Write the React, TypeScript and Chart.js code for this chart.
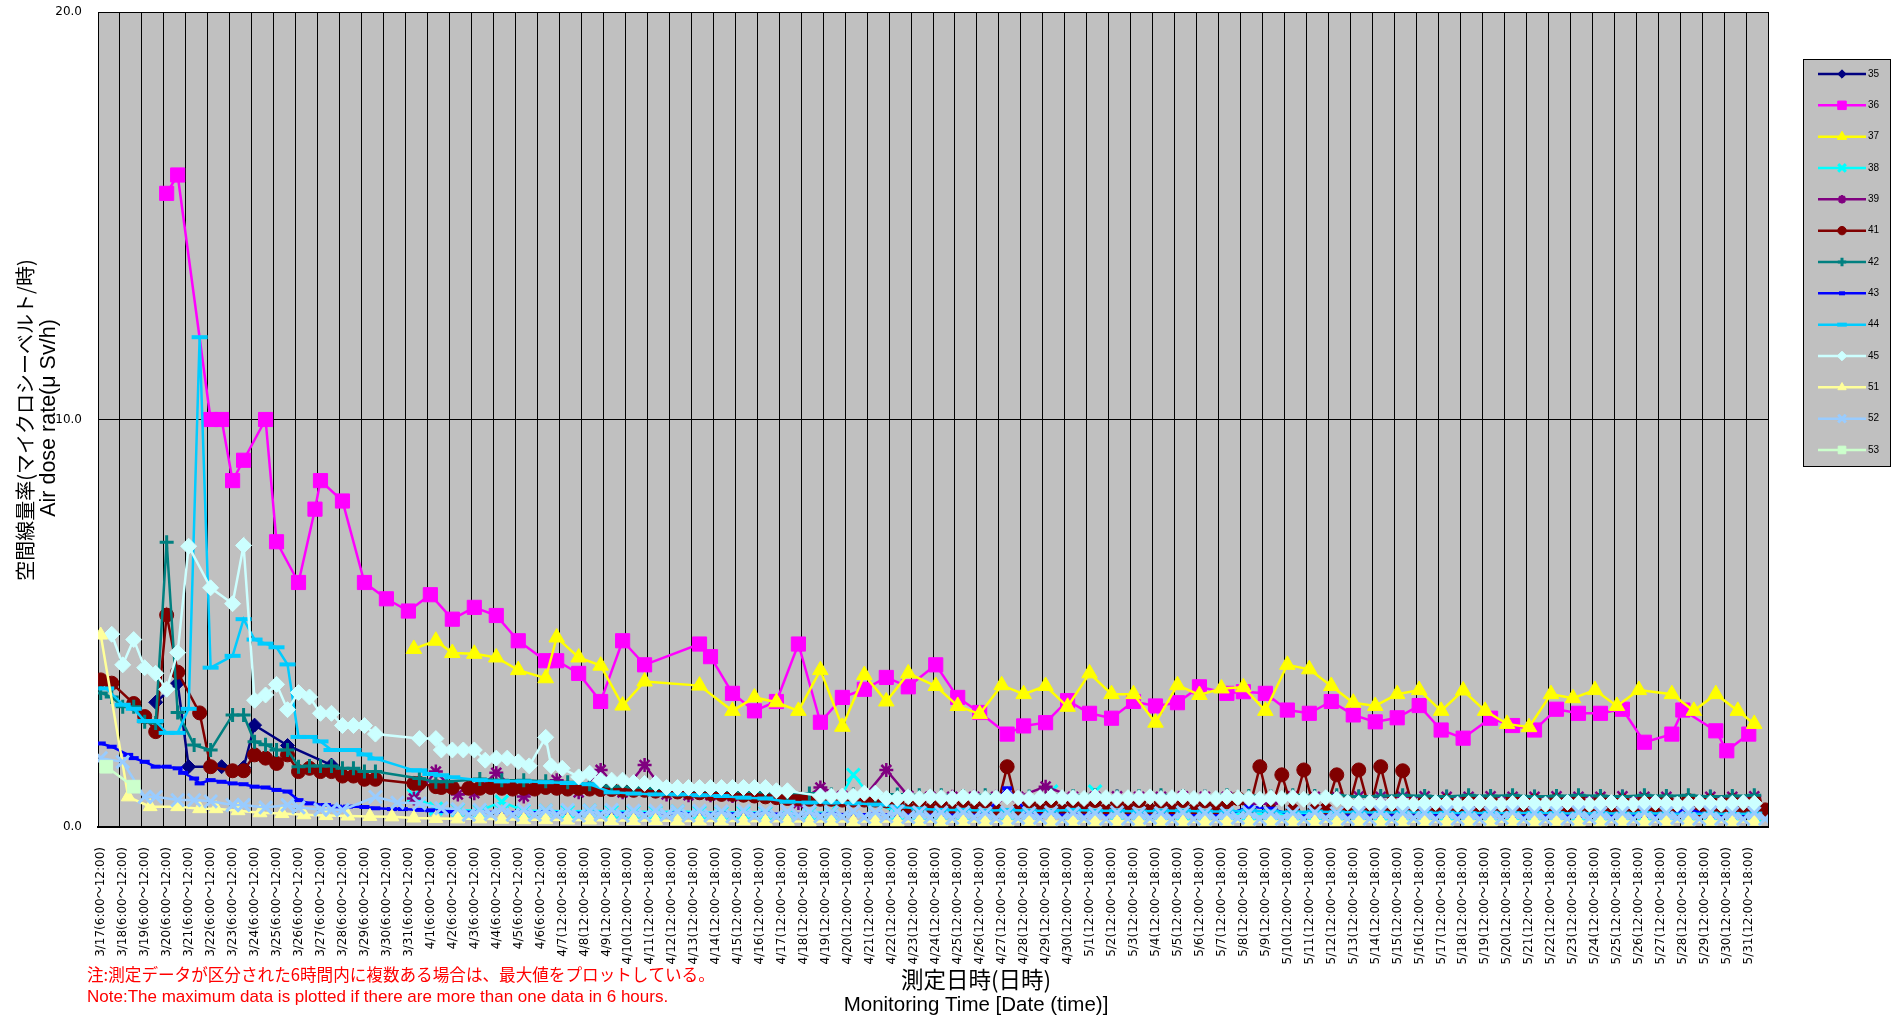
import React, { useEffect, useRef } from 'react';
import { Chart, registerables } from 'chart.js';
import { drawPoint } from 'chart.js/helpers';

Chart.register(...registerables);

const W = 1899;
const H = 1020;

// ---------- tick labels (one per day) ----------
const dayLabels = [
  '3/17(6:00～12:00)', '3/18(6:00～12:00)', '3/19(6:00～12:00)', '3/20(6:00～12:00)', '3/21(6:00～12:00)',
  '3/22(6:00～12:00)', '3/23(6:00～12:00)', '3/24(6:00～12:00)', '3/25(6:00～12:00)', '3/26(6:00～12:00)',
  '3/27(6:00～12:00)', '3/28(6:00～12:00)', '3/29(6:00～12:00)', '3/30(6:00～12:00)', '3/31(6:00～12:00)',
  '4/1(6:00～12:00)', '4/2(6:00～12:00)', '4/3(6:00～12:00)', '4/4(6:00～12:00)', '4/5(6:00～12:00)',
  '4/6(6:00～12:00)', '4/7(12:00～18:00)', '4/8(12:00～18:00)', '4/9(12:00～18:00)', '4/10(12:00～18:00)',
  '4/11(12:00～18:00)', '4/12(12:00～18:00)', '4/13(12:00～18:00)', '4/14(12:00～18:00)', '4/15(12:00～18:00)',
  '4/16(12:00～18:00)', '4/17(12:00～18:00)', '4/18(12:00～18:00)', '4/19(12:00～18:00)', '4/20(12:00～18:00)',
  '4/21(12:00～18:00)', '4/22(12:00～18:00)', '4/23(12:00～18:00)', '4/24(12:00～18:00)', '4/25(12:00～18:00)',
  '4/26(12:00～18:00)', '4/27(12:00～18:00)', '4/28(12:00～18:00)', '4/29(12:00～18:00)', '4/30(12:00～18:00)',
  '5/1(12:00～18:00)', '5/2(12:00～18:00)', '5/3(12:00～18:00)', '5/4(12:00～18:00)', '5/5(12:00～18:00)',
  '5/6(12:00～18:00)', '5/7(12:00～18:00)', '5/8(12:00～18:00)', '5/9(12:00～18:00)', '5/10(12:00～18:00)',
  '5/11(12:00～18:00)', '5/12(12:00～18:00)', '5/13(12:00～18:00)', '5/14(12:00～18:00)', '5/15(12:00～18:00)',
  '5/16(12:00～18:00)', '5/17(12:00～18:00)', '5/18(12:00～18:00)', '5/19(12:00～18:00)', '5/20(12:00～18:00)',
  '5/21(12:00～18:00)', '5/22(12:00～18:00)', '5/23(12:00～18:00)', '5/24(12:00～18:00)', '5/25(12:00～18:00)',
  '5/26(12:00～18:00)', '5/27(12:00～18:00)', '5/28(12:00～18:00)', '5/29(12:00～18:00)', '5/30(12:00～18:00)',
  '5/31(12:00～18:00)',
];

// six-hour slot indices (4 slots per day, slot 0 = 3/17 6:00-12:00)
const dailyBins = [1, 5, 9, 13, 17, 21, 25, 29, 33, 37, 41, 45, 49, 53, 57, 61, 65, 69, 73, 77, 81, 85, 89, 93, 97, 101,
  105, 109, 113, 117, 121, 125, 129, 133, 137, 141, 145, 149, 153, 157, 161, 165, 169, 173, 177, 181, 185, 189, 193, 197,
  201, 205, 209, 213, 217, 221, 225, 229, 233, 237, 241, 245, 249, 253, 257, 261, 265, 269, 273, 277, 281, 285, 289, 293,
  297, 301];
const halfDayBins = [65, 67, 69, 71, 73, 75, 77, 79, 81, 83, 85, 87, 89, 91, 93, 95, 97, 99, 101, 103, 105, 107, 109, 111,
  113, 115, 117, 119, 121, 123, 125, 127, 129, 131, 133, 135, 137, 139, 141, 143, 145, 147, 149, 151, 153, 155, 157, 159,
  161, 163, 165, 167, 169, 171, 173, 175, 177, 179, 181, 183, 185, 187, 189, 191, 193, 195, 197, 199, 201, 203, 205, 207,
  209, 211, 213, 215, 217, 219, 221, 223, 225, 227, 229, 231, 233, 235, 237, 239, 241, 243, 245, 247, 249, 251, 253, 255,
  257, 259, 261, 263, 265, 267, 269, 271, 273, 275, 277, 279, 281, 283, 285, 287, 289, 291, 293, 295, 297, 299, 301, 303];

// ---------- series values (µSv/h) ----------
const bins35 = [10, 14, 16, 22, 26, 28, 34, 42];
const vals35 = [3.06, 3.53, 1.48, 1.48, 1.46, 2.5, 2.0, 1.52];

const bins36 = [12, 14, 20, 22, 24, 26, 30, 32, 36, 39, 40, 44, 48, 52, 56, 60, 64, 68, 72, 76, 81, 83, 87, 91, 95, 99,
  109, 111, 115, 119, 123, 127, 131, 135, 139, 143, 147, 152, 156, 160, 165, 168, 172, 176, 180, 184, 188, 192, 196, 200,
  205, 208, 212, 216, 220, 224, 228, 232, 236, 240, 244, 248, 253, 257, 261, 265, 269, 273, 277, 281, 286, 288, 294, 296, 300];
const vals36 = [15.55, 16.0, 10.0, 10.0, 8.5, 9.0, 10.0, 7.0, 6.0, 7.8, 8.5, 8.0, 6.0, 5.6, 5.3, 5.7, 5.1, 5.39, 5.19, 4.57,
  4.08, 4.08, 3.77, 3.08, 4.57, 3.98, 4.49, 4.18, 3.28, 2.85, 3.08, 4.49, 2.57, 3.18, 3.38, 3.67, 3.44, 3.98, 3.18, 2.81,
  2.28, 2.48, 2.56, 3.1, 2.79, 2.67, 3.08, 2.97, 3.05, 3.44, 3.28, 3.32, 3.28, 2.87, 2.79, 3.08, 2.75, 2.58, 2.68, 2.98,
  2.38, 2.18, 2.67, 2.49, 2.38, 2.89, 2.79, 2.79, 2.89, 2.08, 2.28, 2.87, 2.36, 1.87, 2.28];

const bins37 = [57, 61, 64, 68, 72, 76, 81, 83, 87, 91, 95, 99, 109, 115, 119, 123, 127, 131, 135, 139, 143, 147, 152, 156,
  160, 164, 168, 172, 176, 180, 184, 188, 192, 196, 200, 204, 208, 212, 216, 220, 224, 228, 232, 236, 240, 244, 248, 252,
  256, 260, 264, 268, 272, 276, 280, 286, 290, 294, 298, 301];
const vals37 = [4.37, 4.57, 4.27, 4.25, 4.16, 3.85, 3.65, 4.65, 4.16, 3.96, 2.98, 3.57, 3.47, 2.85, 3.18, 3.06, 2.85, 3.85,
  2.46, 3.73, 3.08, 3.77, 3.46, 2.97, 2.77, 3.48, 3.26, 3.46, 2.95, 3.77, 3.26, 3.26, 2.56, 3.48, 3.24, 3.4, 3.43, 2.85,
  3.98, 3.87, 3.46, 3.05, 2.97, 3.26, 3.36, 2.85, 3.35, 2.85, 2.53, 2.45, 3.26, 3.16, 3.36, 2.97, 3.36, 3.26, 2.85, 3.26,
  2.85, 2.53];

const vals38 = [0.77, 0.45, 0.42, 0.4, 0.62, 0.4, 0.4, 0.38, 0.4, 0.38, 0.38, 0.36, 0.38, 0.36, 0.35, 0.36, 0.35, 0.25,
  0.35, 0.35, 1.28, 0.6, 0.35, 0.34, 0.35, 0.34, 0.34, 0.34, 0.34, 0.87, 0.34, 0.87, 0.34, 0.33, 0.33, 0.33, 0.33, 0.33,
  0.32, 0.32, 0.32, 0.32, 0.32, 0.32, 0.31, 0.31, 0.31, 0.31, 0.31, 0.31, 0.3, 0.3, 0.3, 0.3, 0.3, 0.3, 0.3, 0.3, 0.29,
  0.29, 0.29, 0.29];

const bins39 = [57, 61, 65, 68, 72, 77, 83, 87, 91, 95, 99, 103, 107, 111, 115, 119, 123, 127, 131, 135, 139, 143, 147,
  151, 155, 159, 163, 167, 172];
const vals39 = [0.7, 1.36, 0.8, 0.83, 1.33, 0.75, 1.15, 0.85, 1.4, 0.85, 1.52, 0.8, 0.78, 0.78, 0.76, 0.76, 0.74, 0.59,
  0.97, 0.76, 0.74, 1.4, 0.76, 0.74, 0.74, 0.74, 0.74, 0.74, 0.99];
const tail39 = [0.74, 0.74, 0.75, 0.74, 0.74, 0.75, 0.74, 0.74, 0.57, 0.57, 0.75, 0.74, 0.74, 0.75, 0.74, 0.74, 0.75,
  0.74, 0.74, 0.75, 0.74, 0.74, 0.75, 0.74, 0.74, 0.75, 0.74, 0.74, 0.5, 0.74, 0.74, 0.75];

const bins41 = [0, 2, 6, 8, 10, 12, 14, 18, 20, 24, 26, 28, 30, 32, 34, 36, 38, 40, 42, 44, 46, 48, 50, 57, 58, 61, 62, 64];
const vals41 = [3.61, 3.53, 3.03, 2.71, 2.34, 5.2, 3.8, 2.8, 1.48, 1.38, 1.38, 1.77, 1.69, 1.56, 1.77, 1.36, 1.44, 1.36,
  1.36, 1.25, 1.25, 1.17, 1.17, 1.07, 1.07, 0.99, 0.97, 0.97];
const tail41 = [0.95,
  0.95, 0.97, 0.95, 0.93, 0.95, 0.93, 0.97, 0.95, 0.93, 0.95, 0.93, 0.92, 0.92, 0.9, 0.9, 0.9, 0.88, 0.88,
  0.86, 0.85, 0.84, 0.82, 0.8, 0.8, 0.78, 0.76, 0.74, 0.72, 0.7, 0.7, 0.68, 0.68, 0.68, 0.66, 0.66, 0.66, 0.66, 0.64,
  0.64, 0.42, 0.65, 0.42, 0.64, 0.4, 0.65, 0.42, 0.64, 0.4, 1.48, 0.4, 0.64, 0.42, 0.65, 0.4, 0.64, 0.42, 0.65, 0.4,
  0.64, 0.42, 0.65, 0.4, 0.64, 0.42, 0.65, 0.4, 0.64, 0.42, 0.62, 0.7, 0.4, 1.48, 0.4, 1.28, 0.4, 1.4, 0.4, 0.42,
  1.28, 0.4, 1.4, 0.4, 1.48, 0.4, 1.38, 0.4,
  0.62, 0.4, 0.64, 0.42, 0.65, 0.4, 0.64, 0.42, 0.65, 0.4, 0.64, 0.42, 0.65, 0.4, 0.64, 0.42, 0.65, 0.4, 0.64, 0.42,
  0.65, 0.4, 0.64, 0.42, 0.65, 0.4, 0.64, 0.42, 0.65, 0.4, 0.64, 0.42];

const bins42 = [0, 2, 4, 6, 8, 10, 12, 14, 17, 20, 24, 26, 28, 30, 32, 34, 36, 38, 40, 42, 44, 46, 48, 50, 58, 61, 63];
const vals42 = [3.29, 3.19, 2.95, 2.95, 2.58, 2.55, 6.99, 2.81, 2.01, 1.89, 2.75, 2.75, 2.09, 2.02, 1.89, 1.89, 1.48,
  1.5, 1.5, 1.5, 1.44, 1.44, 1.36, 1.36, 1.19, 1.11, 1.11];
const tail42 = [1.18, 1.15, 1.15, 1.12, 1.1, 1.05, 1.0, 0.98, 0.95, 0.92, 0.9, 0.9, 0.88, 0.86, 0.84, 0.82, 0.8, 0.8,
  0.78, 0.8, 0.78,
  0.78, 0.76, 0.78, 0.76, 0.75, 0.78, 0.76, 0.78, 0.75, 0.76, 0.78, 0.76, 0.75, 0.78, 0.76, 0.75, 0.78, 0.76, 0.78,
  0.75, 0.76, 0.78, 0.76, 0.75, 0.78, 0.76, 0.78, 0.75, 0.76, 0.78, 0.76, 0.75, 0.78, 0.76, 0.78, 0.75, 0.76, 0.78];

const bins43 = [0, 2, 5, 6, 8, 10, 12, 14, 15, 17, 18, 20, 22, 24, 26, 28, 30, 32, 34, 36, 38, 41, 43, 45, 48, 50, 53,
  55, 58, 60, 62, 64];
const vals43 = [2.05, 1.97, 1.77, 1.69, 1.6, 1.48, 1.48, 1.44, 1.33, 1.19, 1.07, 1.15, 1.11, 1.07, 1.05, 0.99, 0.97,
  0.91, 0.87, 0.66, 0.58, 0.54, 0.5, 0.5, 0.49, 0.46, 0.44, 0.44, 0.42, 0.41, 0.39, 0.38];
const tail43 = [0.37, 0.37, 0.36, 0.36, 0.35, 0.35, 0.35, 0.34, 0.34, 0.34, 0.33, 0.33, 0.33, 0.33, 0.32, 0.32, 0.32,
  0.31, 0.31, 0.3, 0.3,
  0.3, 0.3, 0.3, 0.95, 0.3, 0.3, 0.3, 0.29, 0.29, 0.29, 0.29, 0.29, 0.29, 0.29, 0.5, 0.45, 0.29, 0.28, 0.28, 0.28,
  0.28, 0.28, 0.28, 0.28, 0.28, 0.27, 0.27, 0.27, 0.27, 0.27, 0.27, 0.27, 0.27, 0.27, 0.45, 0.26, 0.26, 0.26];

const bins44 = [1, 4, 6, 8, 10, 12, 14, 16, 18, 20, 24, 26, 28, 30, 32, 34, 36, 38, 40, 42, 44, 46, 48, 50, 57, 58, 60, 62, 64];
const vals44 = [3.4, 3.0, 2.9, 2.6, 2.6, 2.31, 2.31, 2.9, 12.02, 3.91, 4.2, 5.1, 4.6, 4.5, 4.41, 3.99, 2.21, 2.21, 2.1,
  1.89, 1.89, 1.89, 1.78, 1.68, 1.39, 1.39, 1.3, 1.27, 1.22];
const tail44 = [1.15, 1.12, 1.12, 1.1, 1.08, 1.05, 0.85, 0.82, 0.8, 0.8, 0.78, 0.76, 0.72, 0.7, 0.62, 0.6, 0.6, 0.58,
  0.55, 0.5, 0.45,
  0.42, 0.42, 0.4, 0.42, 0.4, 0.4, 0.42, 0.4, 0.4, 0.38, 0.4, 0.4, 0.38, 0.38, 0.4, 0.38, 0.36, 0.38, 0.36, 0.36,
  0.35, 0.36, 0.35, 0.35, 0.34, 0.35, 0.34, 0.35, 0.34, 0.33, 0.34, 0.33, 0.34, 0.33, 0.32, 0.33, 0.32, 0.33];

const bins45 = [2, 4, 6, 8, 10, 12, 14, 16, 20, 24, 26, 28, 30, 32, 34, 36, 38, 40, 42, 44, 46, 48, 50, 58, 61, 62, 64,
  66, 68, 70, 72, 74, 76, 78, 81, 82, 84, 87, 89, 91, 93, 95, 97, 99, 101, 103, 105, 107, 109, 111, 113, 115, 117, 119,
  121, 123, 125, 131, 133, 135, 137, 139, 141, 143, 145];
const vals45 = [4.73, 3.98, 4.6, 3.91, 3.77, 3.38, 4.28, 6.89, 5.87, 5.48, 6.91, 3.11, 3.24, 3.5, 2.88, 3.3, 3.19, 2.79,
  2.79, 2.49, 2.49, 2.49, 2.28, 2.17, 2.17, 1.89, 1.89, 1.89, 1.89, 1.64, 1.69, 1.69, 1.6, 1.5, 2.2, 1.5, 1.44, 1.23,
  1.32, 1.15, 1.15, 1.15, 1.09, 1.07, 1.07, 0.97, 0.97, 0.97, 0.97, 0.97, 0.97, 0.97, 0.97, 0.97, 0.97, 0.89, 0.89,
  0.76, 0.76, 0.76, 0.76, 0.83, 0.83, 0.7, 0.7];
const tail45 = [0.74, 0.7, 0.74, 0.72, 0.7, 0.74, 0.72, 0.7, 0.72, 0.74, 0.72, 0.7, 0.72, 0.74, 0.72, 0.72, 0.7, 0.74,
  0.72, 0.7, 0.72, 0.72, 0.74, 0.7, 0.72, 0.74, 0.7,
  0.72, 0.7, 0.74, 0.72, 0.7, 0.68, 0.72, 0.7, 0.72, 0.68, 0.7, 0.72, 0.68,
  0.6, 0.58, 0.6, 0.56, 0.58, 0.6, 0.56, 0.58, 0.6, 0.58, 0.56, 0.58, 0.6, 0.58, 0.56, 0.58, 0.6, 0.58, 0.56, 0.58,
  0.6, 0.58, 0.56, 0.58, 0.6, 0.58, 0.56, 0.58, 0.6, 0.58, 0.56, 0.58, 0.6, 0.58, 0.56, 0.58, 0.6, 0.58];

const bins51 = [0, 5, 9, 14, 18, 21];
const vals51 = [4.71, 0.74, 0.5, 0.5, 0.45, 0.45];
const tail51 = [0.4, 0.35, 0.33, 0.3, 0.28, 0.27, 0.26, 0.25,
  0.22, 0.21, 0.2, 0.2, 0.19, 0.18, 0.18, 0.17, 0.17, 0.16, 0.16, 0.16, 0.15, 0.15, 0.15, 0.15, 0.14,
  0.14, 0.13, 0.14, 0.13, 0.14, 0.13, 0.14, 0.13, 0.14, 0.13, 0.13, 0.14, 0.13, 0.14, 0.13, 0.14, 0.13, 0.14, 0.13,
  0.13, 0.14, 0.13, 0.14, 0.13, 0.14, 0.13, 0.14, 0.13, 0.13, 0.14, 0.13, 0.14, 0.13, 0.14, 0.13, 0.14, 0.13, 0.13,
  0.14, 0.13, 0.14, 0.13, 0.14, 0.13, 0.14];

const bins52 = [0, 4, 8, 10, 14, 17, 20, 24, 26, 30, 34, 36, 40, 42, 44, 50, 54, 58, 62];
const vals52 = [1.69, 1.6, 0.74, 0.74, 0.66, 0.66, 0.63, 0.54, 0.54, 0.48, 0.54, 0.48, 0.43, 0.43, 0.42, 0.74, 0.6,
  0.58, 0.46];
const tail52 = [0.44, 0.3, 0.42, 0.32, 0.44, 0.3, 0.42, 0.3, 0.4, 0.3, 0.42, 0.28, 0.4, 0.3, 0.42, 0.28, 0.4, 0.28,
  0.4, 0.3, 0.38, 0.28, 0.4, 0.28, 0.38, 0.26, 0.4, 0.28, 0.38, 0.26, 0.38, 0.28, 0.38, 0.26, 0.36, 0.26, 0.38, 0.24,
  0.36, 0.26, 0.38, 0.24, 0.36, 0.24, 0.36, 0.22, 0.36, 0.24, 0.34, 0.22, 0.36, 0.22, 0.34, 0.22, 0.36, 0.2, 0.34, 0.22,
  0.34, 0.2, 0.36, 0.2, 0.34, 0.22, 0.34, 0.2, 0.36, 0.2, 0.34, 0.2, 0.34, 0.22, 0.36, 0.2, 0.34, 0.2, 0.34, 0.2,
  0.36, 0.22, 0.34, 0.2, 0.34, 0.2, 0.36, 0.2, 0.34, 0.22, 0.34, 0.2, 0.36, 0.2, 0.34, 0.2, 0.34, 0.22, 0.36, 0.2,
  0.34, 0.2, 0.34, 0.2, 0.36, 0.22, 0.34, 0.2, 0.34, 0.2, 0.36, 0.2, 0.34, 0.22, 0.34, 0.2, 0.36, 0.2, 0.34, 0.2,
  0.34, 0.2];

const bins53 = [1, 6];
const vals53 = [1.48, 0.99];

// ---------- series styling ----------
const seriesNames = ['35', '36', '37', '38', '39', '41', '42', '43', '44', '45', '51', '52', '53'];
const seriesColors = ['#000080', '#FF00FF', '#FFFF00', '#00FFFF', '#800080', '#800000', '#008080', '#0000FF', '#00CCFF',
  '#CCFFFF', '#FFFF99', '#99CCFF', '#CCFFCC'];
const seriesMarkers = ['rectRot', 'rect', 'triangle', 'crossRot', 'star', 'circle', 'cross', 'line', 'line', 'rectRot',
  'triangle', 'crossRot', 'rect'];
const markerRadius = [7, 10, 9, 9, 7, 7, 7, 5, 8, 8, 8, 9, 9];
const markerBorder = [1, 1, 1, 3, 2.5, 1, 3, 4, 4, 1, 1, 3, 1];

const pts = (b: number[], v: number[]) => b.map((x, i) => ({ x: x + 0.5, y: v[i] }));

const seriesData = [
  pts(bins35, vals35),
  pts(bins36, vals36),
  pts(bins37, vals37),
  pts(dailyBins.slice(14), vals38),
  pts(bins39.concat(dailyBins.slice(44)), vals39.concat(tail39)),
  pts(bins41.concat(halfDayBins.slice(1)), vals41.concat(tail41)),
  pts(bins42.concat(dailyBins.slice(17)), vals42.concat(tail42)),
  pts(bins43.concat(dailyBins.slice(17)), vals43.concat(tail43)),
  pts(bins44.concat(dailyBins.slice(17)), vals44.concat(tail44)),
  pts(bins45.concat(halfDayBins.slice(41, 119)), vals45.concat(tail45)),
  pts(bins51.concat(dailyBins.slice(6)), vals51.concat(tail51)),
  pts(bins52.concat(halfDayBins), vals52.concat(tail52)),
  pts(bins53, vals53),
];

const tickValues = Array.from({ length: dayLabels.length + 1 }, (_, i) => i * 4);

const decorPlugin = {
  id: 'decor',
  beforeDraw(chart: any) {
    const { ctx, chartArea: a } = chart;
    ctx.save();
    ctx.fillStyle = '#FFFFFF';
    ctx.fillRect(0, 0, chart.width, chart.height);
    ctx.fillStyle = '#C0C0C0';
    ctx.fillRect(a.left, a.top, a.right - a.left, a.bottom - a.top);
    ctx.restore();
  },
  afterDraw(chart: any) {
    const { ctx } = chart;
    ctx.save();
    // y axis title
    ctx.fillStyle = '#000';
    ctx.textAlign = 'center';
    ctx.textBaseline = 'middle';
    ctx.save();
    ctx.translate(25, 420);
    ctx.rotate(-Math.PI / 2);
    ctx.font = '20px "Noto Sans CJK JP"';
    ctx.fillText('空間線量率(マイクロシーベルト/時)', 0, 0);
    ctx.restore();
    ctx.save();
    ctx.translate(49, 418);
    ctx.rotate(-Math.PI / 2);
    ctx.font = '21.5px "Liberation Sans", "Noto Sans CJK JP"';
    ctx.fillText('Air dose rate(μ Sv/h)', 0, 0);
    ctx.restore();
    // x axis title
    ctx.font = '22.5px "Noto Sans CJK JP"';
    ctx.fillText('測定日時(日時)', 976, 979);
    ctx.font = '20.5px "Liberation Sans"';
    ctx.fillText('Monitoring Time [Date (time)]', 976, 1005);
    // note
    ctx.fillStyle = '#FF0000';
    ctx.textAlign = 'left';
    ctx.font = '16.6px "Noto Sans CJK JP"';
    ctx.fillText('注:測定データが区分された6時間内に複数ある場合は、最大値をプロットしている。', 87, 975);
    ctx.font = '17px "Liberation Sans"';
    ctx.fillText('Note:The maximum data is plotted if there are more than one data in 6 hours.', 87, 997);
    // legend
    const lx = 1803, ly = 59, lw = 87, lh = 407;
    ctx.fillStyle = '#C0C0C0';
    ctx.fillRect(lx, ly, lw, lh);
    ctx.strokeStyle = '#000';
    ctx.lineWidth = 1;
    ctx.strokeRect(lx + 0.5, ly + 0.5, lw, lh);
    seriesNames.forEach((name, i) => {
      const y = 74 + i * 31.33;
      const c = seriesColors[i];
      ctx.strokeStyle = c;
      ctx.lineWidth = 2.5;
      ctx.beginPath();
      ctx.moveTo(1818, y);
      ctx.lineTo(1866, y);
      ctx.stroke();
      ctx.fillStyle = c;
      ctx.strokeStyle = c;
      ctx.lineWidth = markerBorder[i];
      drawPoint(ctx, {
        pointStyle: seriesMarkers[i] as any,
        radius: markerRadius[i] * 0.6,
        borderWidth: markerBorder[i],
        rotation: 0,
      } as any, 1842, y);
      ctx.fillStyle = '#000';
      ctx.font = '10px "Liberation Sans"';
      ctx.textAlign = 'left';
      ctx.textBaseline = 'middle';
      ctx.fillText(name, 1868, y);
    });
    ctx.restore();
  },
};

export default function App() {
  const ref = useRef<HTMLCanvasElement>(null);
  useEffect(() => {
    if (!ref.current) return;
    const n = seriesNames.length;
    const chart = new Chart(ref.current, {
      type: 'line',
      data: {
        datasets: seriesNames.map((name, i) => ({
          label: name,
          data: seriesData[i],
          order: n - i,
          borderColor: seriesColors[i],
          backgroundColor: seriesColors[i],
          borderWidth: 2.5,
          pointStyle: seriesMarkers[i] as any,
          pointRadius: markerRadius[i],
          pointBorderWidth: markerBorder[i],
          pointBackgroundColor: seriesColors[i],
          pointBorderColor: seriesColors[i],
          tension: 0,
          fill: false,
        })),
      },
      options: {
        responsive: false,
        animation: false,
        devicePixelRatio: 1,
        events: [],
        parsing: false as any,
        normalized: true,
        layout: { padding: { left: 0, right: 131, top: 12, bottom: 0 } },
        plugins: {
          legend: { display: false },
          tooltip: { enabled: false },
          title: { display: false },
        },
        scales: {
          x: {
            type: 'linear',
            min: 0,
            max: 304,
            afterFit(scale: any) {
              scale.height = 193;
              scale.paddingLeft = 0;
              scale.paddingRight = 0;
              scale.paddingTop = 0;
              scale.paddingBottom = 0;
            },
            afterBuildTicks(scale: any) { scale.ticks = tickValues.map((v) => ({ value: v })); },
            ticks: {
              autoSkip: false,
              maxRotation: 90,
              minRotation: 90,
              padding: 20,
              labelOffset: 3,
              color: '#000',
              font: { family: '"DejaVu Sans", "Noto Sans CJK JP"', size: 12 },
              callback: (_v: any, i: number) => dayLabels[i] ?? '',
            },
            grid: { color: '#000', lineWidth: 1, drawTicks: false },
            border: { color: '#000', width: 2 },
          },
          y: {
            min: 0,
            max: 20,
            afterFit(scale: any) {
              scale.width = 98;
              scale.paddingTop = 0;
              scale.paddingBottom = 0;
              scale.paddingLeft = 0;
              scale.paddingRight = 0;
            },
            ticks: {
              stepSize: 10,
              padding: 16,
              color: '#000',
              font: { family: '"DejaVu Sans"', size: 12 },
              callback: (v: any) => Number(v).toFixed(1),
            },
            grid: { color: '#000', lineWidth: 1, drawTicks: false },
            border: { color: '#000', width: 1 },
          },
        },
      },
      plugins: [decorPlugin],
    } as any);
    return () => chart.destroy();
  }, []);
  return (
    <div style={{ position: 'fixed', left: 0, top: 0, width: W, height: H, background: '#fff' }}>
      <canvas ref={ref} width={W} height={H} style={{ display: 'block', width: W, height: H }} />
    </div>
  );
}
